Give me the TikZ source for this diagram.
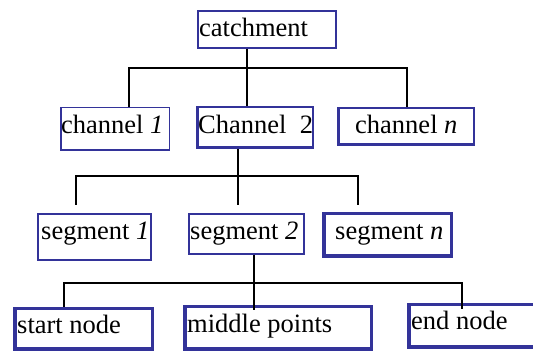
\documentclass[tikz,border=0pt]{standalone}
\usepackage{fontspec}
\setmainfont{Liberation Serif}
\definecolor{boxblue}{RGB}{51,51,153}
\begin{document}
\begin{tikzpicture}[x=1pt,y=-1pt,
  box/.style={draw=boxblue,fill=white,inner sep=0pt,rectangle},
  lbl/.style={anchor=base west,inner sep=0pt,font=\fontsize{26.5}{30}\selectfont},
  wire/.style={draw=black,line width=2pt}]
\useasboundingbox (0,0) rectangle (533,352);
\clip (0,0) rectangle (533,352);
% boxes
\node[box,line width=2pt,minimum width=138pt,minimum height=37pt] (cat) at (267,29.5) {};
\node[box,line width=1.5pt,minimum width=108.5pt,minimum height=42.5pt] (ch1) at (115,129) {};
\node[box,line width=2.5pt,minimum width=115.5pt,minimum height=40.5pt] (ch2) at (255,127.5) {};
\node[box,line width=2.5pt,minimum width=135.5pt,minimum height=36.5pt] (chn) at (406,126.5) {};
\node[box,line width=2pt,minimum width=113pt,minimum height=46pt] (seg1) at (94.5,237) {};
\node[box,line width=2pt,minimum width=115pt,minimum height=40pt] (seg2) at (246.5,234) {};
\node[box,line width=3.5pt,minimum width=127.5pt,minimum height=42.5pt] (segn) at (387.5,235) {};
\node[box,line width=3.5pt,minimum width=137.5pt,minimum height=40.5pt] (start) at (83.5,329) {};
\node[box,line width=3.5pt,minimum width=186.5pt,minimum height=42.5pt] (mid) at (278,328) {};
\node[box,line width=3.5pt,minimum width=129.5pt,minimum height=42.5pt] (endn) at (473.5,326) {};
% labels
\node[lbl] (tcat) at (199,36.7) {catchment};
\node[lbl] (tch1) at (61,134) {channel \textit{1}};
\node[lbl] (tch2) at (198,134) {Channel\ \ 2};
\node[lbl] (tchn) at (355,134) {channel \textit{n}};
\node[lbl] (tseg1) at (41,240) {segment \textit{1}};
\node[lbl] (tseg2) at (190,240) {segment \textit{2}};
\node[lbl] (tsegn) at (335,240) {segment \textit{n}};
\node[lbl] (tstart) at (17,334) {start node};
\node[lbl] (tmid) at (187,333) {middle points};
\node[lbl] (tend) at (411,330) {end node};
% junction coordinates
\coordinate (j1) at (247,68);
\coordinate (j1a) at (129,68);
\coordinate (j1c) at (407,68);
\coordinate (j2) at (238,176);
\coordinate (j2a) at (75.5,176);
\coordinate (j2c) at (358,176);
\coordinate (d2a) at (75.5,205);
\coordinate (d2b) at (238,205);
\coordinate (d2c) at (358,205);
\coordinate (j3) at (254,283);
\coordinate (j3a) at (64,283);
\coordinate (j3c) at (462,283);
\coordinate (d3c) at (462,309);
\coordinate (d3b) at (254,310);
% connectors
\draw[wire] (j1 |- cat.south) -- (j1);
\draw[wire] (j1a |- ch1.north) -- (j1a) -- (j1c) -- (j1c |- chn.north);
\draw[wire] (j1) -- (j1 |- ch2.north);
\draw[wire] (j2 |- ch2.south) -- (j2);
\draw[wire] (d2a) -- (j2a) -- (j2c) -- (d2c);
\draw[wire] (j2) -- (d2b);
\draw[wire] (j3 |- seg2.south) -- (j3);
\draw[wire] (j3a |- start.north) -- (j3a) -- (j3c) -- (d3c);
\draw[wire] (j3) -- (d3b);
\end{tikzpicture}
\end{document}
